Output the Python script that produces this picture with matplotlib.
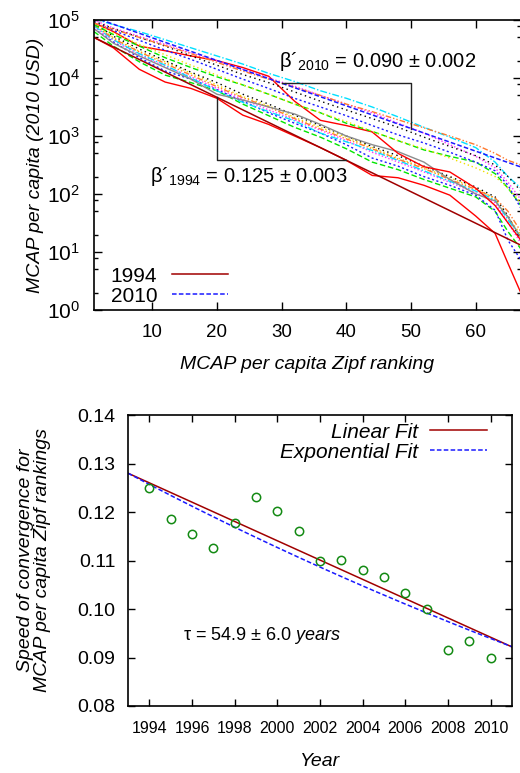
import numpy as np
import matplotlib
matplotlib.use("Agg")
import matplotlib.pyplot as plt
from matplotlib.lines import Line2D
from matplotlib.ticker import LogLocator, MultipleLocator, FormatStrFormatter

plt.rcParams['font.family'] = ['Liberation Sans', 'DejaVu Sans']
plt.rcParams['mathtext.fontset'] = 'custom'
plt.rcParams['mathtext.rm'] = 'Liberation Sans'
plt.rcParams['mathtext.it'] = 'Liberation Sans:italic'

# --- top panel: Zipf rank curves, log10 of MCAP per capita (2010 USD)
ranks = [1, 4, 8, 12, 16, 20, 24, 28, 32, 36, 40, 44, 48, 52, 56, 60, 63, 65, 67]
y1994 = [4.70, 4.52, 4.15, 3.93, 3.82, 3.65, 3.36, 3.20, 3.00, 2.80, 2.58, 2.32, 2.28, 2.15, 1.98, 1.62, 1.32, 0.80, 0.29]
y1995 = [4.80, 4.55, 4.28, 4.05, 3.92, 3.78, 3.55, 3.35, 3.15, 2.98, 2.78, 2.55, 2.42, 2.25, 2.10, 1.95, 1.70, 1.35, 1.05]
y1996 = [4.85, 4.62, 4.35, 4.12, 3.98, 3.80, 3.60, 3.40, 3.22, 3.05, 2.85, 2.62, 2.48, 2.30, 2.15, 1.98, 1.72, 1.20, 0.86]
y1997 = [4.88, 4.65, 4.40, 4.20, 4.02, 3.82, 3.63, 3.45, 3.28, 3.10, 2.92, 2.72, 2.55, 2.38, 2.20, 2.02, 1.85, 1.50, 1.15]
y1998 = [4.90, 4.66, 4.42, 4.22, 4.00, 3.78, 3.58, 3.42, 3.26, 3.05, 2.90, 2.75, 2.58, 2.40, 2.22, 2.05, 1.90, 1.55, 1.25]
y1999 = [4.92, 4.70, 4.46, 4.28, 4.08, 3.88, 3.68, 3.52, 3.32, 3.15, 2.98, 2.80, 2.62, 2.45, 2.28, 2.10, 1.92, 1.60, 1.30]
y2000 = [4.95, 4.72, 4.50, 4.30, 4.10, 3.92, 3.72, 3.55, 3.36, 3.18, 3.00, 2.82, 2.66, 2.48, 2.30, 2.12, 1.95, 1.62, 1.20]
y2001 = [4.92, 4.68, 4.45, 4.25, 4.05, 3.85, 3.66, 3.50, 3.30, 3.12, 2.95, 2.78, 2.60, 2.44, 2.25, 2.08, 1.93, 1.70, 1.35]
y2002 = [4.85, 4.60, 4.38, 4.18, 3.98, 3.72, 3.62, 3.50, 3.38, 3.20, 3.00, 2.85, 2.73, 2.55, 2.25, 2.00, 1.88, 1.60, 1.25]
y2003 = [4.95, 4.80, 4.55, 4.47, 4.38, 4.30, 4.18, 4.03, 3.60, 3.27, 3.18, 3.07, 2.70, 2.47, 2.38, 2.10, 1.80, 1.50, 1.20]
y2004 = [4.92, 4.75, 4.55, 4.35, 4.18, 4.02, 3.88, 3.72, 3.55, 3.40, 3.22, 3.08, 2.92, 2.76, 2.65, 2.55, 2.35, 2.10, 1.80]
y2005 = [4.97, 4.82, 4.65, 4.48, 4.32, 4.15, 3.98, 3.82, 3.65, 3.50, 3.35, 3.18, 3.02, 2.88, 2.72, 2.55, 2.40, 2.15, 1.75]
y2006 = [5.00, 4.86, 4.72, 4.58, 4.43, 4.30, 4.15, 4.00, 3.86, 3.70, 3.55, 3.40, 3.22, 3.05, 2.85, 2.65, 2.45, 2.20, 1.90]
y2007 = [5.02, 4.92, 4.80, 4.66, 4.52, 4.38, 4.24, 4.08, 3.94, 3.78, 3.65, 3.50, 3.33, 3.15, 2.98, 2.80, 2.55, 2.30, 2.10]
y2008 = [4.95, 4.78, 4.58, 4.40, 4.22, 4.05, 3.88, 3.72, 3.55, 3.40, 3.25, 3.08, 2.92, 2.78, 2.62, 2.45, 2.30, 2.10, 1.85]
y2009 = [4.98, 4.85, 4.70, 4.55, 4.38, 4.22, 4.06, 3.92, 3.76, 3.60, 3.45, 3.30, 3.15, 2.98, 2.82, 2.66, 2.50, 2.30, 2.05]
y2010 = [4.95, 4.84, 4.70, 4.56, 4.42, 4.27, 4.12, 3.98, 3.84, 3.70, 3.55, 3.42, 3.28, 3.14, 3.00, 2.85, 2.70, 2.58, 2.50]

curves = [y1994, y1995, y1996, y1997, y1998, y1999, y2000, y2001, y2002,
          y2003, y2004, y2005, y2006, y2007, y2008, y2009, y2010]

# fitted Zipf laws: value at rank 1 and beta'
beta_1994, amp_1994 = 0.125, 5.0e4
beta_2010, amp_2010 = 0.090, 1.108e5

# --- bottom panel: speed of convergence per year
years = [1994, 1995, 1996, 1997, 1998, 1999, 2000, 2001, 2002,
         2003, 2004, 2005, 2006, 2007, 2008, 2009, 2010]
speed = [0.1250, 0.1185, 0.1155, 0.1125, 0.1177, 0.1230, 0.1203, 0.1160, 0.1100,
         0.1102, 0.1080, 0.1065, 0.1032, 0.1000, 0.0915, 0.0935, 0.0898]
lin_b0, lin_slope = 0.1280, -0.00199   # value at 1993, per year
exp_b0, tau = 0.1280, 54.9             # value at 1993, years

styles = [('#ff0000', '-'),
          ('#00e600', (0, (4, 2))),
          ('#1a1aff', (0, (1.5, 1.8))),
          ('#ff33ff', (0, (1, 1.5))),
          ('#00e0ff', (0, (5, 1.5, 1, 1.5))),
          ('#f0e000', (0, (1, 2))),
          ('#000000', (0, (1, 2.5))),
          ('#ff7a30', (0, (4, 1.5, 1, 1.5, 1, 1.5))),
          ('#8c8c8c', '-')]

fig = plt.figure(figsize=(5.20, 7.73), dpi=100)

# ---------------- top
ax1 = fig.add_axes([94/520, 1-310/773, 427/520, 290/773])
for i, c in enumerate(curves):
    col, ls = styles[i % len(styles)]
    ax1.plot(ranks, 10**np.array(c), color=col, ls=ls, lw=1.0)

r = np.linspace(1, 67, 200)
fit94 = lambda x: amp_1994*np.exp(-beta_1994*(np.asarray(x)-1))
fit10 = lambda x: amp_2010*np.exp(-beta_2010*(np.asarray(x)-1))
ax1.plot(r, fit94(r), color='#a00000', lw=1.1)
ax1.plot(r, fit10(r), color='#1a1aff', lw=1.1, ls=(0, (3, 1.5)))

# slope triangles
ax1.plot([30, 50, 50], [fit10(30), fit10(30), fit10(50)], color='#222222', lw=1.0)
ax1.plot([20, 20, 40], [fit94(20), fit94(40), fit94(40)], color='#222222', lw=1.0)
ax1.text(44.9, 1.96e4, r"β´$_{\mathrm{2010}}$ = 0.090 ± 0.002", fontsize=14.5,
         ha='center', va='center')
ax1.text(24.9, 2.0e2, r"β´$_{\mathrm{1994}}$ = 0.125 ± 0.003", fontsize=14.5,
         ha='center', va='center')

ax1.set_yscale('log')
ax1.set_xlim(1, 67)
ax1.set_ylim(1, 1e5)
ax1.xaxis.set_major_locator(MultipleLocator(10))
ax1.yaxis.set_major_locator(LogLocator(base=10, numticks=10))
ax1.yaxis.set_minor_locator(LogLocator(base=10, subs=[2, 5, 8], numticks=10))
ax1.tick_params(which='both', direction='in', top=True, right=True, width=1.0)
ax1.tick_params(which='major', length=6)
ax1.tick_params(which='minor', length=3)
ax1.tick_params(axis='x', labelsize=13.5, pad=10)
ax1.tick_params(axis='y', labelsize=15, pad=10)
ax1.yaxis.set_minor_formatter(plt.NullFormatter())
for s in ax1.spines.values():
    s.set_linewidth(1.2)
ax1.set_xlabel('MCAP per capita Zipf ranking', fontsize=14, style='italic', labelpad=11)
ax1.set_ylabel('MCAP per capita (2010 USD)', fontsize=14, style='italic', labelpad=2)

h94 = Line2D([], [], color='#a00000', lw=1.1)
h10 = Line2D([], [], color='#1a1aff', lw=1.1, ls=(0, (3, 1.5)))
ax1.legend([h94, h10], ['1994', '2010'], loc='lower left', bbox_to_anchor=(0.005, -0.035),
           frameon=False, markerfirst=False, fontsize=15, handlelength=2.7,
           handletextpad=0.7, labelspacing=0.05, borderpad=0.2)

# ---------------- bottom
ax2 = fig.add_axes([128/520, 1-706/773, 384/520, 291/773])
t = np.linspace(1993, 2011, 200)
ax2.plot(t, lin_b0 + lin_slope*(t-1993), color='#a00000', lw=1.1, label='Linear Fit')
ax2.plot(t, exp_b0*np.exp(-(t-1993)/tau), color='#1a1aff', lw=1.1, ls=(0, (3, 1.5)),
         label='Exponential Fit')
ax2.plot(years, speed, ls='none', marker='o', ms=6, mfc='none', mec='#138a13', mew=1.1)

ax2.set_xlim(1993, 2011)
ax2.set_ylim(0.08, 0.14)
ax2.xaxis.set_major_locator(MultipleLocator(2))
ax2.yaxis.set_major_locator(MultipleLocator(0.01))
ax2.yaxis.set_major_formatter(FormatStrFormatter('%.2f'))
ax2.tick_params(direction='in', top=True, right=True, length=5, width=1.0)
ax2.tick_params(axis='x', labelsize=11.5, pad=11)
ax2.tick_params(axis='y', labelsize=14, pad=9)
for s in ax2.spines.values():
    s.set_linewidth(1.2)
ax2.set_xlabel('Year', fontsize=14, style='italic', labelpad=12)
ax2.set_ylabel('Speed of convergence for\nMCAP per capita Zipf rankings', fontsize=14,
               style='italic', labelpad=19, linespacing=1.0)
ax2.text(0.349, 0.241, r"τ = 54.9 ± 6.0 $\it{years}$", transform=ax2.transAxes,
         fontsize=13, ha='center', va='center')
ax2.legend(loc='upper right', bbox_to_anchor=(1 - 13/384, 1 + 5/291), frameon=False,
           markerfirst=False, prop={'style': 'italic', 'size': 15}, handlelength=2.7,
           handletextpad=0.6, labelspacing=0.05, borderpad=0.3, borderaxespad=0.3)

fig.savefig('out.png', dpi=100)
